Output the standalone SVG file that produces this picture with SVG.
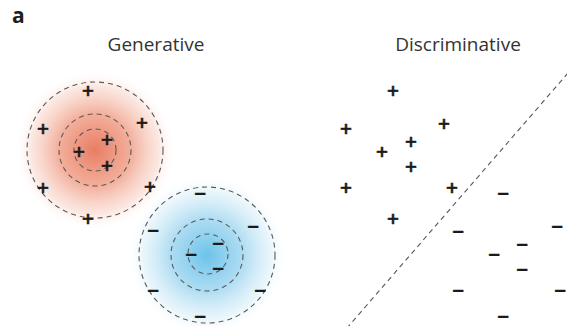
<svg xmlns="http://www.w3.org/2000/svg" width="567" height="326" viewBox="0 0 567 326">
  <style>
    .title { font-family: "Open Sans", "Liberation Sans", sans-serif; font-size: 19px; fill: #333; text-anchor: middle; font-variant-ligatures: none; }
    .label { font-family: "Open Sans", "Liberation Sans", sans-serif; font-size: 21px; font-weight: 700; fill: #1e1e1e; }
    .ring { fill: none; stroke: #5a5a5a; stroke-width: 1.1; stroke-dasharray: 5 4; }
    .p { font-family: "DejaVu Sans", sans-serif; font-weight: bold; font-size: 16px; fill: #1a1a1a; stroke: #1a1a1a; stroke-width: 0.5; text-anchor: middle; }
    .m { font-family: "DejaVu Sans", sans-serif; font-weight: bold; font-size: 16px; fill: #1a1a1a; stroke: #1a1a1a; stroke-width: 0.4; text-anchor: middle; }
    .boundary { stroke: #555; stroke-width: 1.1; stroke-dasharray: 5 4; fill: none; }
  </style>
  <defs>
    <radialGradient id="gRed" cx="0.5" cy="0.5" r="0.5">
      <stop offset="0" stop-color="#e97c63"/>
      <stop offset="0.45" stop-color="#f0a089" stop-opacity="0.85"/>
      <stop offset="0.8" stop-color="#f8cfc2" stop-opacity="0.5"/>
      <stop offset="1" stop-color="#ffffff" stop-opacity="0"/>
    </radialGradient>
    <radialGradient id="gBlue" cx="0.5" cy="0.5" r="0.5">
      <stop offset="0" stop-color="#6cc3ea"/>
      <stop offset="0.45" stop-color="#9fd6f0" stop-opacity="0.85"/>
      <stop offset="0.8" stop-color="#d3ecf8" stop-opacity="0.5"/>
      <stop offset="1" stop-color="#ffffff" stop-opacity="0"/>
    </radialGradient>
  </defs>
  <rect width="567" height="326" fill="#ffffff"/>

  <text class="label" x="12" y="23">a</text>
  <text class="title" x="156" y="51">Generative</text>
  <text class="title" x="458" y="51">Discriminative</text>

  <g id="generative-positive">
    <circle cx="95" cy="150" r="80" fill="url(#gRed)"/>
    <circle class="ring" cx="95" cy="150" r="68"/>
    <circle class="ring" cx="95" cy="150" r="36"/>
    <circle class="ring" cx="95" cy="150" r="21"/>
    <text class="p" x="88" y="96">+</text>
    <text class="p" x="43" y="134">+</text>
    <text class="p" x="142" y="128">+</text>
    <text class="p" x="107" y="145">+</text>
    <text class="p" x="79" y="157">+</text>
    <text class="p" x="107" y="171">+</text>
    <text class="p" x="43" y="193">+</text>
    <text class="p" x="150" y="192">+</text>
    <text class="p" x="88" y="224">+</text>
  </g>

  <g id="generative-negative">
    <circle cx="207" cy="255" r="80" fill="url(#gBlue)"/>
    <circle class="ring" cx="207" cy="255" r="68"/>
    <circle class="ring" cx="207" cy="255" r="36"/>
    <circle class="ring" cx="208" cy="254" r="20"/>
    <text class="m" x="200" y="199">−</text>
    <text class="m" x="153" y="236">−</text>
    <text class="m" x="253" y="232">−</text>
    <text class="m" x="218" y="249">−</text>
    <text class="m" x="191" y="260">−</text>
    <text class="m" x="218" y="274">−</text>
    <text class="m" x="153" y="296">−</text>
    <text class="m" x="260" y="296">−</text>
    <text class="m" x="200" y="322">−</text>
  </g>

  <g id="connectors">
    <line class="boundary" x1="568" y1="73" x2="347" y2="328"/>
  </g>

  <g id="discriminative-positive">
    <text class="p" x="393" y="96">+</text>
    <text class="p" x="346" y="134">+</text>
    <text class="p" x="444" y="129">+</text>
    <text class="p" x="411" y="147">+</text>
    <text class="p" x="382" y="157">+</text>
    <text class="p" x="411" y="172">+</text>
    <text class="p" x="346" y="193">+</text>
    <text class="p" x="452" y="193">+</text>
    <text class="p" x="393" y="224">+</text>
  </g>

  <g id="discriminative-negative">
    <text class="m" x="503" y="199">−</text>
    <text class="m" x="458" y="237">−</text>
    <text class="m" x="557" y="232">−</text>
    <text class="m" x="522" y="250">−</text>
    <text class="m" x="494" y="260">−</text>
    <text class="m" x="522" y="275">−</text>
    <text class="m" x="458" y="296">−</text>
    <text class="m" x="560" y="296">−</text>
    <text class="m" x="503" y="322">−</text>
  </g>
</svg>
